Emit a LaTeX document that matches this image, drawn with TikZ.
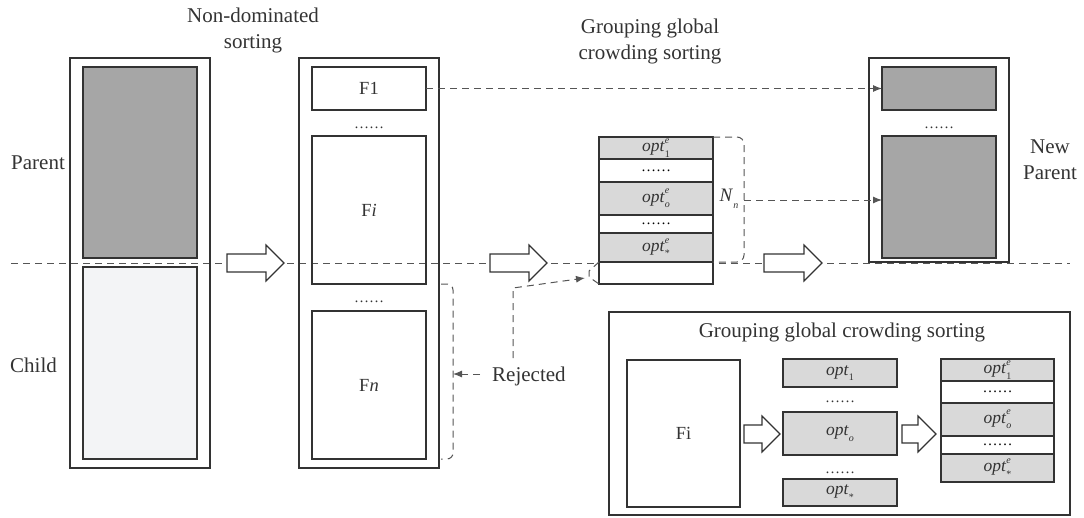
\documentclass[tikz,border=0pt]{standalone}
\usepackage{fontspec}
\setmainfont{Liberation Serif}
\usetikzlibrary{arrows.meta}
\definecolor{ln}{HTML}{333333}
\definecolor{dk}{HTML}{A6A6A6}
\definecolor{lt}{HTML}{F3F4F6}
\definecolor{og}{HTML}{D9D9D9}
\definecolor{dl}{HTML}{555555}
\newcommand\rbox[7]{\node[#1, anchor=north west, minimum width={(#4)-(#2)}, minimum height={(#5)-(#3)}] (#6) at (#2,#3) {#7};}
\newcommand\fatarr[4]{\draw[arrbody] (#1,#4-9) -- (#2,#4-9) -- (#2,#4-18) -- (#3,#4) -- (#2,#4+18) -- (#2,#4+9) -- (#1,#4+9) -- cycle;}
\newcommand\sml{\fontsize{10}{10}\selectfont}
\newcommand\opte[1]{\textit{opt}\makebox[0pt][l]{\raisebox{1.0ex}{\sml\textit{e}}}\raisebox{-0.7ex}{\sml #1}}
\newcommand\optp[1]{\textit{opt}\raisebox{-0.7ex}{\sml #1}}
\newcommand\sixdots{\fontsize{15}{15}\selectfont\ldots\ldots}
\begin{document}
\begin{tikzpicture}[x=1pt,y=-1pt,
  bx/.style={draw=ln, line width=1.1pt, inner sep=0pt, outer sep=0pt},
  dkbox/.style={bx, fill=dk},
  ltbox/.style={bx, fill=lt},
  ogbox/.style={bx, fill=og},
  wbox/.style={bx, fill=white},
  boxtxt/.style={font=\fontsize{18.5}{20}\selectfont, text=ln},
  opttxt/.style={font=\fontsize{17.5}{18}\selectfont, text=ln},
  dline/.style={draw=dl, line width=1pt, dash pattern=on 7pt off 5pt},
  darr/.style={dline, -{Latex[length=9pt,width=7pt]}},
  arrbody/.style={draw=ln, line width=1.1pt, fill=white},
  lbl/.style={font=\fontsize{21}{26}\selectfont, align=center, inner sep=0pt, text=ln},
  dots/.style={inner sep=0pt, text=ln}]
\useasboundingbox (0,0) rectangle (1084,517);

% long dashed line
\coordinate (dl0) at (11,263);
\coordinate (dl1) at (1070,263);
\draw[dline] (dl0) -- (dl1);

% left population
\rbox{bx}{70}{58}{210}{468}{L}{}
\rbox{dkbox}{83}{67}{197}{258}{Lp}{}
\rbox{ltbox}{83}{267}{197}{459}{Lc}{}
\node[lbl, anchor=west] (tp) at (11,163) {Parent};
\node[lbl, anchor=west] (tc) at (10,365) {Child};

% non-dominated sorting
\rbox{bx}{299}{58}{439}{468}{M}{}
\rbox{bx, boxtxt}{312}{67}{426}{110}{F1}{F1}
\node[dots] (d1) at (369,128) {\sixdots};
\rbox{bx, boxtxt}{312}{136}{426}{284}{Fi}{F\textit{i}}
\node[dots] (d2) at (369,302) {\sixdots};
\rbox{bx, boxtxt}{312}{311}{426}{459}{Fn}{F\textit{n}}
\node[lbl] (t1) at (253,30) {Non-dominated\\sorting};

% grouping stack (top)
\rbox{ogbox, opttxt}{599}{137}{713}{159}{s1}{\opte{1}}
\rbox{wbox}{599}{159}{713}{182}{s2}{\sixdots}
\rbox{ogbox, opttxt}{599}{182}{713}{215}{s3}{\opte{\textit{o}}}
\rbox{wbox}{599}{215}{713}{233}{s4}{\sixdots}
\rbox{ogbox, opttxt}{599}{233}{713}{262}{s5}{\opte{*}}
\rbox{wbox}{599}{262}{713}{284}{s6}{}
\node[lbl] (t2) at (650,41) {Grouping global\\crowding sorting};

% new parent
\rbox{bx}{869}{58}{1009}{262}{NP}{}
\rbox{dkbox}{882}{67}{996}{110}{np1}{}
\node[dots] (d3) at (939,128) {\sixdots};
\rbox{dkbox}{882}{136}{996}{258}{np2}{}
\node[lbl] (tn) at (1050,160) {New\\Parent};

% hollow arrows
\fatarr{227}{266}{284}{263}
\fatarr{490}{529}{547}{263}
\fatarr{764}{804}{822}{263}

% F1 -> new parent
\draw[darr] (F1.east) -- (np1.west);

% N_n bracket
\draw[dline, rounded corners=7pt] (s1.north east) -- (744,137) -- (744,262) -- (s5.south east);
\coordinate (nb) at (744,200);
\node[font=\fontsize{19}{20}\selectfont, text=ln, inner sep=0pt] (Nn) at (729,199) {\textit{N}\raisebox{-0.8ex}{\sml\textit{n}}};
\draw[darr] (nb) -- (np2.west |- nb);

% rejected
\draw[dline, rounded corners=6pt] (441,284) -- (453,284) -- (453,459) -- (441,459);
\coordinate (fb) at (453,374);
\node[lbl, anchor=west] (rej) at (492,376) {Rejected};
\draw[darr] ([xshift=-12pt]rej.west |- fb) -- (fb);
\coordinate (r1) at (513,358);
\coordinate (r2) at (513,288);
\coordinate (r3) at (585,278);
\draw[darr] (r1) -- (r2) -- (r3);
\draw[dline] (s6.north west) -- (589,271) -- (589,277) -- (s6.south west);

% bottom inset
\rbox{bx}{609}{312}{1070}{515}{B}{}
\node[lbl] (bt) at (842,332) {Grouping global crowding sorting};
\rbox{bx, boxtxt}{627}{360}{740}{507}{bFi}{Fi}
\rbox{ogbox, opttxt}{783}{359}{897}{387}{o1}{\optp{1}}
\node[dots] (d4) at (840,402) {\sixdots};
\rbox{ogbox, opttxt}{783}{412}{897}{455}{oo}{\optp{\textit{o}}}
\node[dots] (d5) at (840,473) {\sixdots};
\rbox{ogbox, opttxt}{783}{479}{897}{506}{os}{\optp{*}}
\fatarr{744}{762}{780}{434}
\fatarr{902}{918}{936}{434}
\rbox{ogbox, opttxt}{941}{359}{1054}{381}{e1}{\opte{1}}
\rbox{wbox}{941}{381}{1054}{403}{e2}{\sixdots}
\rbox{ogbox, opttxt}{941}{403}{1054}{436}{e3}{\opte{\textit{o}}}
\rbox{wbox}{941}{436}{1054}{454}{e4}{\sixdots}
\rbox{ogbox, opttxt}{941}{454}{1054}{482}{e5}{\opte{*}}
\end{tikzpicture}
\end{document}
